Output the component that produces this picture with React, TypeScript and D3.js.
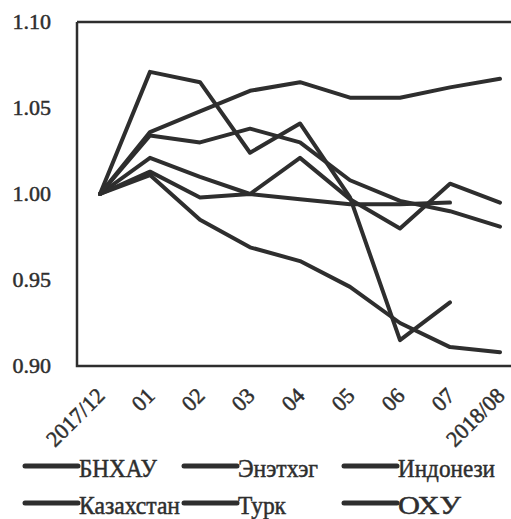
import React from "react";
import * as d3 from "d3";

const categories = ["2017/12", "01", "02", "03", "04", "05", "06", "07", "2018/08"];
const yTicks = [0.9, 0.95, 1.0, 1.05, 1.1];

const seriesNames = ["БНХАУ", "Энэтхэг", "Индонези", "Казахстан", "Турк", "ОХУ"];
const bnhau = [1.0, 1.021, 1.01, 1.0, 1.021, 0.997, 0.98, 1.006, 0.995];
const enethkheg = [1.0, 1.034, 1.03, 1.038, 1.03, 1.008, 0.996, 0.99, 0.981];
const indonezi = [1.0, 1.011, 0.985, 0.969, 0.961, 0.946, 0.925, 0.911, 0.908];
const kazakhstan = [1.0, 1.013, 0.998, 1.0, 0.997, 0.994, 0.994, 0.995];
const turk = [1.0, 1.071, 1.065, 1.024, 1.041, 0.998, 0.915, 0.937];
const ohu = [1.0, 1.036, 1.048, 1.06, 1.065, 1.056, 1.056, 1.062, 1.067];

const seriesValues = [bnhau, enethkheg, indonezi, kazakhstan, turk, ohu];

const INK = "#2e2e2e";
const FONT = "'Liberation Serif', 'DejaVu Serif', serif";

export default function App() {
  const x = d3.scalePoint<string>().domain(categories).range([100, 500]);
  const y = d3.scaleLinear().domain([0.9, 1.1]).range([366, 22]);
  const line = d3
    .line<number>()
    .x((_, i) => x(categories[i]) as number)
    .y((d) => y(d));

  const legendCols = [25, 184, 344];
  const legendRows = [466, 503];
  const legendWidths = [78, 80, 97, 101, 48, 63];

  return (
    <svg
      width={511}
      height={519}
      style={{ position: "absolute", left: 0, top: 0, display: "block", background: "#fff" }}
    >
      {/* frame */}
      <path
        d={`M${x.range()[0] - 23},${y(1.1)} H511 M${x.range()[0] - 23},${y(1.1)} V${y(0.9)} H511`}
        fill="none"
        stroke={INK}
        strokeWidth={2.5}
      />
      {/* y tick labels */}
      {yTicks.map((t) => (
        <text
          key={t}
          x={51}
          y={y(t) + 2}
          textAnchor="end"
          dominantBaseline="middle"
          fontFamily={FONT}
          fontSize={22}
          fill={INK}
          stroke={INK}
          strokeWidth={0.5}
        >
          {d3.format(".2f")(t)}
        </text>
      ))}
      {/* x tick labels */}
      {categories.map((c) => {
        const px = (x(c) as number) + 6;
        const py = 397;
        return (
          <text
            key={c}
            x={px}
            y={py}
            textAnchor="end"
            transform={`rotate(-45 ${px} ${py})`}
            fontFamily={FONT}
            fontSize={22}
            fill={INK}
            stroke={INK}
            strokeWidth={0.5}
          >
            {c}
          </text>
        );
      })}
      {/* series */}
      {seriesValues.map((vals, i) => (
        <path
          key={seriesNames[i]}
          d={line(vals) || ""}
          fill="none"
          stroke={INK}
          strokeWidth={4}
          strokeLinejoin="round"
          strokeLinecap="round"
        />
      ))}
      {/* legend */}
      {seriesNames.map((n, i) => {
        const lx = legendCols[i % 3];
        const ly = legendRows[Math.floor(i / 3)];
        return (
          <g key={n}>
            <line x1={lx} x2={lx + 53} y1={ly} y2={ly} stroke={INK} strokeWidth={5} strokeLinecap="round" />
            <text
              x={lx + 54}
              y={ly + 11}
              fontFamily={FONT}
              fontSize={26}
              fill={INK}
              stroke={INK}
              strokeWidth={0.5}
              textLength={legendWidths[i]}
              lengthAdjust="spacingAndGlyphs"
            >
              {n}
            </text>
          </g>
        );
      })}
    </svg>
  );
}
